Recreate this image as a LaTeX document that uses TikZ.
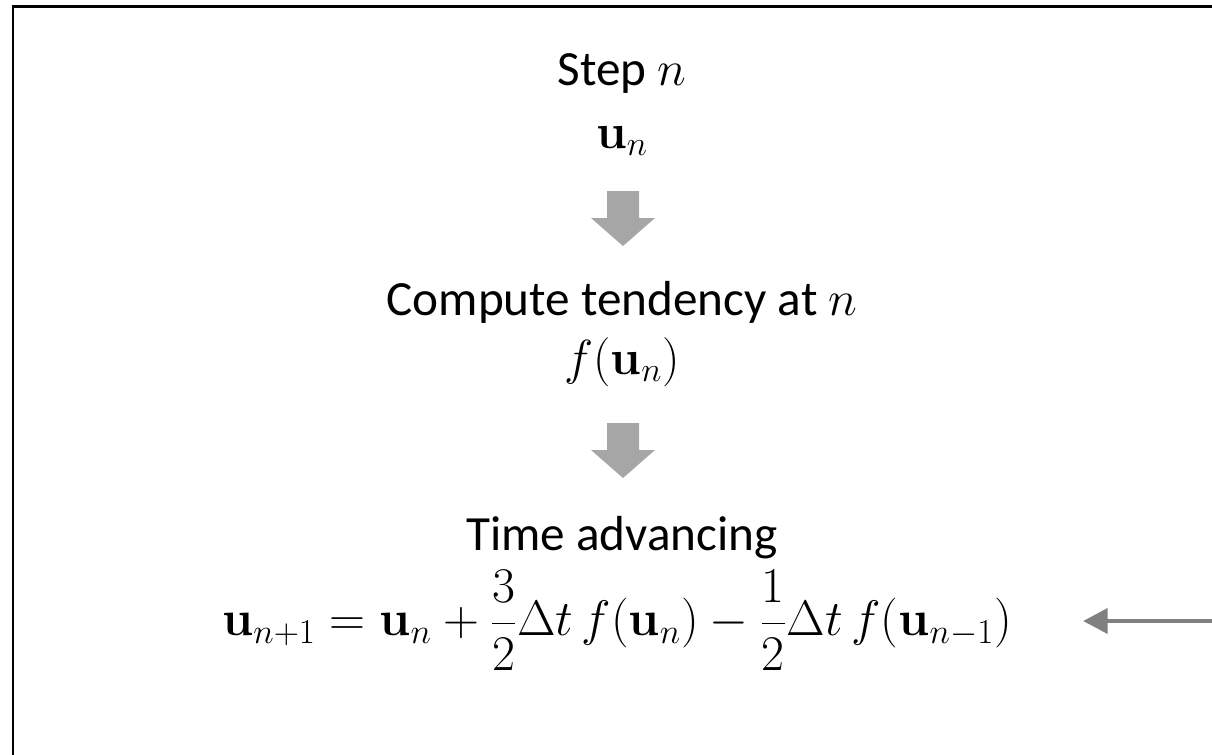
\RequirePackage{fix-cm}
\documentclass[tikz,border=0pt]{standalone}
\usepackage{amsmath}
\usepackage[no-math]{fontspec}
\setmainfont{Carlito}
\usetikzlibrary{arrows.meta,calc,positioning}
\definecolor{BlockGray}{HTML}{A6A6A6}
\definecolor{FeedGray}{HTML}{808080}

\begin{document}
\begin{tikzpicture}[x=0.02cm,y=-0.02cm,
    lbl/.style={anchor=base,inner sep=0pt,font=\fontsize{28}{33}\selectfont},
    eqn/.style={inner sep=0pt,font=\fontsize{28.4}{33}\selectfont},
    blockarrow/.style={fill=BlockGray},
    feedarrow/.style={FeedGray,line width=2.8pt,-{Triangle[length=14pt,width=14pt]}}]
  \useasboundingbox (0,0) rectangle (1212,754);
  \clip (0,0) rectangle (1212,754);
  % frame, cut by the page on the right and at the bottom
  \draw[line width=1.4pt] (13,800) -- (13,6.5) -- (1260,6.5);

  \node[lbl] (step) at (622,85) {Step $n$};
  \node[lbl] (un) at (622,148) {$\mathbf{u}_n$};
  \node[lbl] (tend) at (622,315) {Compute tendency at $n$};
  \node[lbl] (fun) at (622,374) {$f(\mathbf{u}_n)$};
  \node[lbl] (adv) at (622,550) {Time advancing};
  \node[eqn] (eq) at (617,620)
    {$\mathbf{u}_{n+1}=\mathbf{u}_n+\dfrac{3}{2}\Delta t\,f(\mathbf{u}_n)-\dfrac{1}{2}\Delta t\,f(\mathbf{u}_{n-1})$};

  % block arrows between the steps
  \foreach \t in {191,423}
    \fill[blockarrow] (607,\t) -- (639,\t) -- (639,\t+27) -- (655,\t+27)
      -- (623,\t+55) -- (591,\t+27) -- (607,\t+27) -- cycle;

  \coordinate (feed) at (1240,621);
  \coordinate (feedtip) at (1083,621);
  \draw[feedarrow] (feed) -- (feedtip);
\end{tikzpicture}
\end{document}
